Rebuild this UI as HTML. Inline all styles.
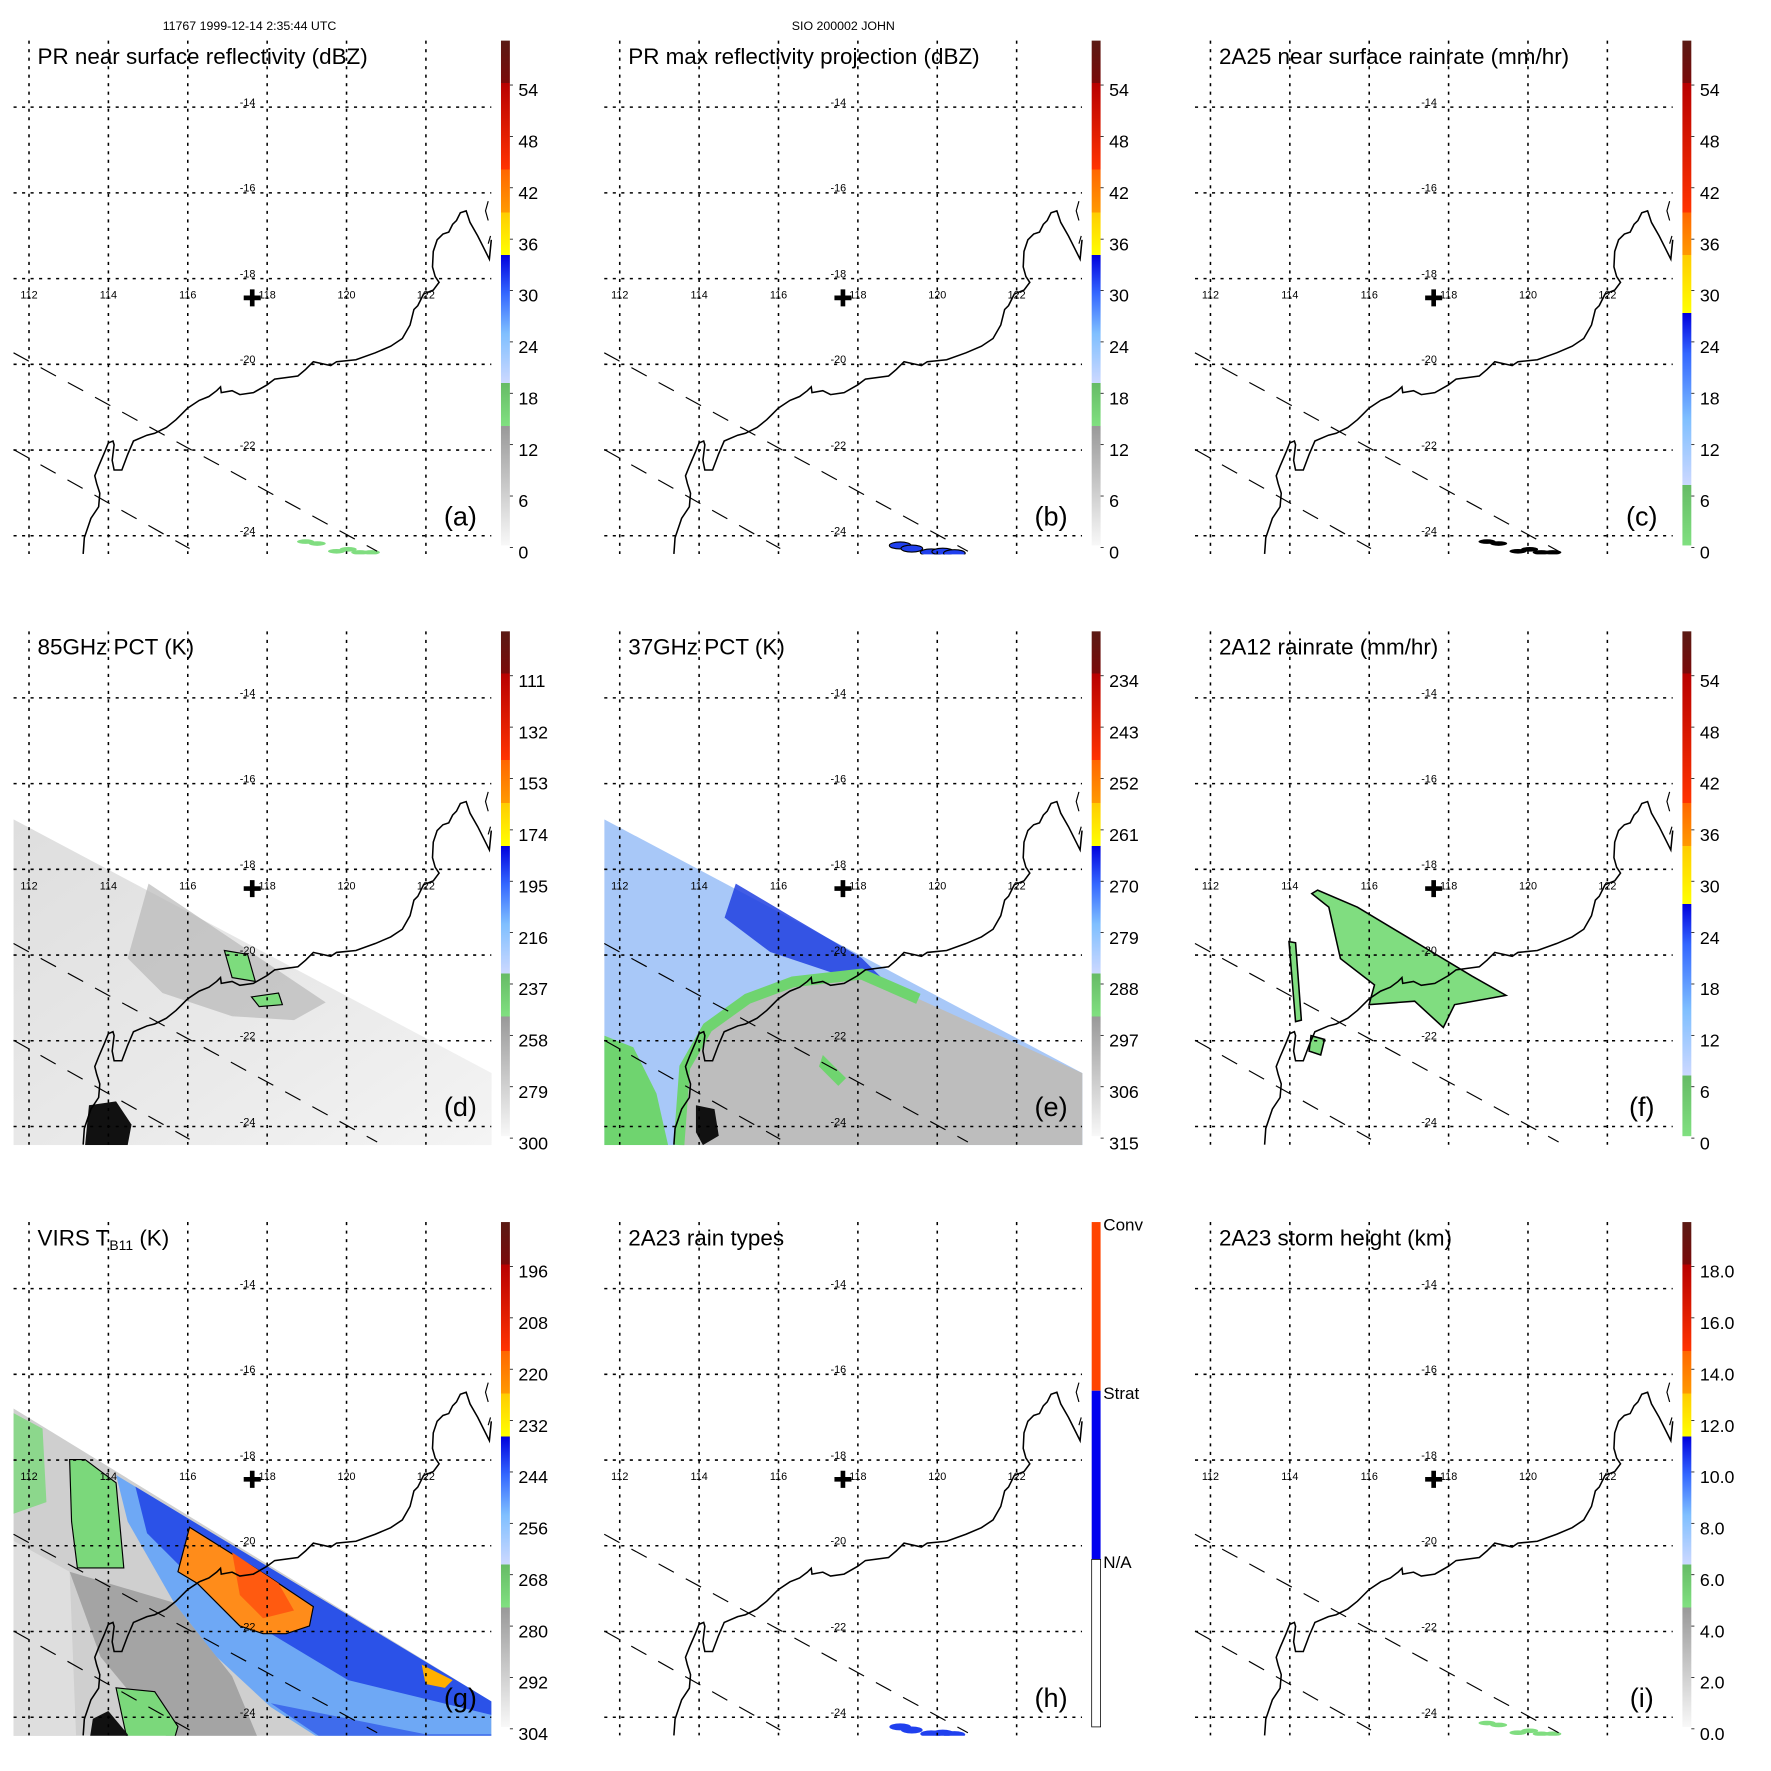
<!DOCTYPE html>
<html><head><meta charset="utf-8"><style>
html,body{margin:0;padding:0;background:#fff;}
svg{display:block;font-family:"Liberation Sans",sans-serif;}
</style></head><body>
<svg id="fig" width="1771" height="1771" viewBox="0 0 4578 4578" xmlns="http://www.w3.org/2000/svg">
<defs>
<clipPath id="mapclip"><rect x="35" y="105" width="1236" height="1328"/></clipPath>
<linearGradient id="gA" x1="0" y1="1" x2="0" y2="0">
<stop offset="0" stop-color="#f8f8f8"/><stop offset="0.237" stop-color="#999"/>
<stop offset="0.237" stop-color="#80e080"/><stop offset="0.322" stop-color="#66bb66"/>
<stop offset="0.322" stop-color="#ccd8ff"/><stop offset="0.42" stop-color="#7fbfff"/><stop offset="0.5" stop-color="#3366ff"/><stop offset="0.575" stop-color="#0000dd"/>
<stop offset="0.575" stop-color="#ffff00"/><stop offset="0.66" stop-color="#ffcc00"/>
<stop offset="0.66" stop-color="#ff9900"/><stop offset="0.745" stop-color="#ff6600"/>
<stop offset="0.745" stop-color="#ff3300"/><stop offset="0.916" stop-color="#b80000"/>
<stop offset="0.916" stop-color="#7a0a0a"/><stop offset="1" stop-color="#5a1a14"/>
</linearGradient>
<linearGradient id="gC" x1="0" y1="1" x2="0" y2="0">
<stop offset="0" stop-color="#80e080"/><stop offset="0.12" stop-color="#66bb66"/>
<stop offset="0.12" stop-color="#ccd8ff"/><stop offset="0.25" stop-color="#7fbfff"/><stop offset="0.38" stop-color="#3366ff"/><stop offset="0.46" stop-color="#0000dd"/>
<stop offset="0.46" stop-color="#ffff00"/><stop offset="0.575" stop-color="#ffcc00"/>
<stop offset="0.575" stop-color="#ff9900"/><stop offset="0.66" stop-color="#ff6600"/>
<stop offset="0.66" stop-color="#ff3300"/><stop offset="0.916" stop-color="#b80000"/>
<stop offset="0.916" stop-color="#7a0a0a"/><stop offset="1" stop-color="#5a1a14"/>
</linearGradient>
<linearGradient id="gD" x1="0" y1="0" x2="1" y2="1">
<stop offset="0" stop-color="#dedede"/><stop offset="0.6" stop-color="#eaeaea"/><stop offset="1" stop-color="#f4f4f4"/>
</linearGradient>
</defs>
<g id="root"></g>
</svg>
<script>
const NS='http://www.w3.org/2000/svg';
const panelTitles=["PR near surface reflectivity (dBZ)","PR max reflectivity projection (dBZ)","2A25 near surface rainrate (mm/hr)","85GHz PCT (K)","37GHz PCT (K)","2A12 rainrate (mm/hr)","VIRS T","2A23 rain types","2A23 storm height (km)"];
const panelLetters=["(a)","(b)","(c)","(d)","(e)","(f)","(g)","(h)","(i)"];
const cbLabelsA=["0","6","12","18","24","30","36","42","48","54"];
const cbLabelsD=["300","279","258","237","216","195","174","153","132","111"];
const cbLabelsE=["315","306","297","288","279","270","261","252","243","234"];
const cbLabelsG=["304","292","280","268","256","244","232","220","208","196"];
const cbLabelsI=["0.0","2.0","4.0","6.0","8.0","10.0","12.0","14.0","16.0","18.0"];
const cbLabelSets=[cbLabelsA,cbLabelsA,cbLabelsA,cbLabelsD,cbLabelsE,cbLabelsA,cbLabelsG,null,cbLabelsI];
const cbGrad=["gA","gA","gC","gA","gA","gC","gA",null,"gA"];
const lonTicks=[112,114,116,118,120,122];
const latTicks=[-14,-16,-18,-20,-22,-24];
const coast=[[215,1432],[218,1390],[235,1340],[255,1310],[258,1275],[250,1250],[245,1230],[255,1205],[270,1170],[280,1145],[292,1140],[295,1150],[290,1190],[295,1215],[315,1215],[330,1175],[345,1140],[380,1125],[400,1120],[430,1105],[455,1085],[470,1070],[485,1055],[515,1035],[540,1025],[560,1010],[570,1000],[572,1015],[600,1010],[620,1020],[655,1015],[690,995],[710,980],[770,972],[790,955],[810,935],[855,945],[870,935],[920,930],[970,912],[1010,895],[1040,875],[1060,840],[1070,800],[1080,790],[1095,760],[1120,750],[1135,730],[1125,715],[1118,690],[1120,650],[1130,620],[1145,605],[1160,600],[1170,580],[1180,570],[1190,550],[1205,545],[1215,575],[1235,610],[1250,640],[1265,670],[1270,620]];
const OFF=1527;
function lonX(l){return 75+(l-112)*102.6;}
function latY(l){return 277+(-14-l)*110.8;}
function el(tag,attrs,parent){const e=document.createElementNS(NS,tag);for(const k in attrs)e.setAttribute(k,attrs[k]);parent.appendChild(e);return e;}
function poly(pts){return pts.map(p=>p.join(',')).join(' ');}
const root=document.getElementById('root');
let t=el('text',{x:645,y:78,'font-size':32,'text-anchor':'middle'},root);t.textContent="11767 1999-12-14 2:35:44 UTC";


t=el('text',{x:2180,y:78,'font-size':32,'text-anchor':'middle'},root);t.textContent="SIO 200002 JOHN";



function swath(g,i){
  if(i===3){
    let p=el('polygon',{points:poly([[35,591],[1271,1247],[1271,1433],[35,1433]]),fill:'url(#gD)'},g);
    
    
    el('polygon',{points:poly([[384,757],[842,1064],[760,1110],[600,1100],[420,1040],[330,950]]),fill:'#b8b8b8',opacity:0.7},g);
    el('polygon',{points:poly([[580,930],[640,940],[660,1010],[600,1000]]),fill:'#7ddc7d',stroke:'#000','stroke-width':3},g);
    el('polygon',{points:poly([[650,1050],[720,1040],[730,1070],[670,1075]]),fill:'#7ddc7d',stroke:'#000','stroke-width':3},g);
    el('polygon',{points:poly([[230,1330],[300,1320],[340,1380],[330,1433],[220,1433]]),fill:'#111'},g);
  } else if(i===4){
    let p=el('polygon',{points:poly([[35,591],[1271,1247],[1271,1433],[35,1433]]),fill:'#a8c8f8'},g);
    
    
    el('polygon',{points:poly([[375,757],[523,845],[700,949],[789,1037],[641,993],[464,934],[346,845]]),fill:'#2040e0',opacity:0.85},g);
    el('polygon',{points:poly([[228,1433],[243,1232],[302,1129],[405,1055],[523,1011],[700,991],[847,1055],[1271,1247],[1271,1433]]),fill:'#bdbdbd'},g);
    el('polyline',{points:poly([[228,1433],[243,1232],[302,1129],[405,1055],[523,1011],[700,991],[847,1055]]),fill:'none',stroke:'#6fd46f','stroke-width':28},g);
    el('polygon',{points:poly([[35,1150],[110,1180],[170,1300],[200,1433],[35,1433]]),fill:'#6fd46f'},g);
    el('polygon',{points:poly([[600,1200],[660,1260],[640,1280],[590,1230]]),fill:'#6fd46f'},g);
    el('polygon',{points:poly([[272,1330],[320,1340],[331,1409],[290,1433],[272,1400]]),fill:'#111'},g);
  } else if(i===5){
    let p=el('polygon',{points:poly([[337,783],[381,818],[411,951],[499,1019],[485,1070],[603,1061],[677,1129],[706,1070],[839,1046],[751,996],[603,907],[455,818],[352,774]]),fill:'#80dd80',stroke:'#000','stroke-width':4},g);
    
    
    el('polygon',{points:poly([[278,907],[295,910],[310,1110],[295,1114]]),fill:'#80dd80',stroke:'#000','stroke-width':4},g);
    el('polygon',{points:poly([[335,1150],[370,1160],[360,1200],[330,1190]]),fill:'#80dd80',stroke:'#000','stroke-width':4},g);
  } else if(i===6){
    const o=529;const m=a=>a.map(q=>[q[0],q[1]+o]);
    let p=el('polygon',{points:poly(m([[35,58],[1270,815],[1270,990],[35,990]])),fill:'#cfcfcf'},g);
    
    
    el('polygon',{points:poly(m([[35,400],[180,480],[200,990],[35,990]])),fill:'#dedede'},g);
    el('polygon',{points:poly(m([[180,480],[450,560],[600,750],[700,990],[500,990],[260,700]])),fill:'#a4a4a4'},g);
    el('polygon',{points:poly(m([[300,230],[1270,815],[1270,990],[950,990],[700,830],[560,700],[450,560],[330,350]])),fill:'#6ea8f5'},g);
    el('polygon',{points:poly(m([[350,260],[1270,815],[1270,850],[900,760],[700,640],[500,500],[380,380]])),fill:'#2b52e8'},g);
    el('polygon',{points:poly(m([[700,820],[1100,900],[1270,900],[1270,990],[950,990]])),fill:'#2b52e8',opacity:0.7},g);
    el('polygon',{points:poly(m([[490,365],[690,490],[810,570],[800,620],[740,640],[680,640],[620,620],[560,560],[510,510],[460,480]])),fill:'#ff8c1a',stroke:'#000','stroke-width':3},g);
    el('polygon',{points:poly(m([[600,430],[720,510],[760,580],[680,600],[620,540]])),fill:'#ff5a10'},g);
    el('polygon',{points:poly(m([[180,190],[220,190],[300,250],[320,470],[200,470],[185,350]])),fill:'#7bd87b',stroke:'#000','stroke-width':3},g);
    el('polygon',{points:poly(m([[300,780],[400,790],[460,880],[440,950],[330,920]])),fill:'#7bd87b',stroke:'#000','stroke-width':3},g);
    el('polygon',{points:poly(m([[35,70],[110,110],[120,300],[35,330]])),fill:'#7bd87b',opacity:0.8},g);
    el('polygon',{points:poly(m([[220,990],[240,860],[280,840],[330,900],[360,990]])),fill:'#111'},g);
    el('polygon',{points:poly(m([[1090,720],[1170,760],[1150,780],[1100,770]])),fill:'#ffb000'},g);
  }
  if(i===0||i===2||i===8){
    const specks=[[790,1400],[820,1405],[870,1425],[900,1420],[930,1428],[960,1428]];
    specks.forEach(s=>el('ellipse',{cx:s[0],cy:s[1],rx:22,ry:6,fill:i===2?'#000':'#80dd80'},g));
  }
  if(i===1||i===7){
    const specks=[[800,1410],[830,1418],[880,1428],[910,1426],[940,1430]];
    specks.forEach(s=>el('ellipse',{cx:s[0],cy:s[1],rx:28,ry:9,fill:'#2040ee',stroke:i===1?'#000':'none','stroke-width':3},g));
  }
}

for(let i=0;i<9;i++){
  const col=i%3,row=Math.floor(i/3);
  const g=el('g',{transform:`translate(${col*OFF},${row*OFF})`},root);
  
  
  const img=el('g',{'clip-path':'url(#mapclip)'},g);
  swath(img,i);
  lonTicks.forEach(l=>{
    const ln=el('line',{x1:lonX(l),y1:105,x2:lonX(l),y2:1432,stroke:'#000','stroke-width':4,'stroke-dasharray':'8 14'},g);
    
    
    const tx=el('text',{x:lonX(l),y:772,'font-size':28,'text-anchor':'middle'},g);tx.textContent=l;
    
    
  });
  latTicks.forEach(l=>{
    const ln=el('line',{x1:35,y1:latY(l),x2:1270,y2:latY(l),stroke:'#000','stroke-width':4,'stroke-dasharray':'8 14'},g);
    
    
    const tx=el('text',{x:640,y:latY(l)-3,'font-size':28,'text-anchor':'middle'},g);tx.textContent=l;
    
    
  });
  const c=el('polyline',{points:poly(coast),fill:'none',stroke:'#000','stroke-width':4},g);
  
  
  el('polyline',{points:'1262,520 1255,545 1262,570',fill:'none',stroke:'#000','stroke-width':3},g);
  el('polyline',{points:'1268,610 1262,630',fill:'none',stroke:'#000','stroke-width':3},g);
  const s1=el('line',{x1:35,y1:912,x2:975,y2:1425,stroke:'#000','stroke-width':3,'stroke-dasharray':'45 35'},g);
  
  
  const s2=el('line',{x1:35,y1:1162,x2:490,y2:1418,stroke:'#000','stroke-width':3,'stroke-dasharray':'45 35'},g);
  
  
  const cr=el('path',{d:'M652,748 V792 M630,770 H674',stroke:'#000','stroke-width':12},g);
  
  
  const ti=el('text',{x:97,y:165,'font-size':58},g);
  
  
  if(i===6){ti.innerHTML='VIRS T<tspan font-size="36" dy="12">B11</tspan><tspan dy="-12"> (K)</tspan>';}
  else ti.textContent=panelTitles[i];
  const lt=el('text',{x:1190,y:1358,'font-size':70,'text-anchor':'middle'},g);lt.textContent=panelLetters[i];
  
  
  const cb=el('g',{},g);
  
  
  if(i===7){
    el('rect',{x:1295,y:105,width:23,height:436,fill:'#ff4400'},cb);
    el('rect',{x:1295,y:541,width:23,height:436,fill:'#0000ee'},cb);
    el('rect',{x:1295,y:977,width:23,height:433,fill:'#fff',stroke:'#000','stroke-width':2},cb);
    [["Conv",105],["Strat",541],["N/A",977]].forEach(p=>{
      const tx=el('text',{x:1325,y:p[1]+22,'font-size':44},cb);tx.textContent=p[0];
      
      
    });
  } else {
    el('rect',{x:1295,y:105,width:23,height:1305,fill:`url(#${cbGrad[i]})`},cb);
    cbLabelSets[i].forEach((lab,k)=>{
      const y=1430-k*132.8;
      el('line',{x1:1318,y1:y-15,x2:1326,y2:y-15,stroke:'#000','stroke-width':2},cb);
      const tx=el('text',{x:1340,y:y+14,'font-size':46},cb);tx.textContent=lab;
      
      
    });
  }
}
</script>
</body></html>
